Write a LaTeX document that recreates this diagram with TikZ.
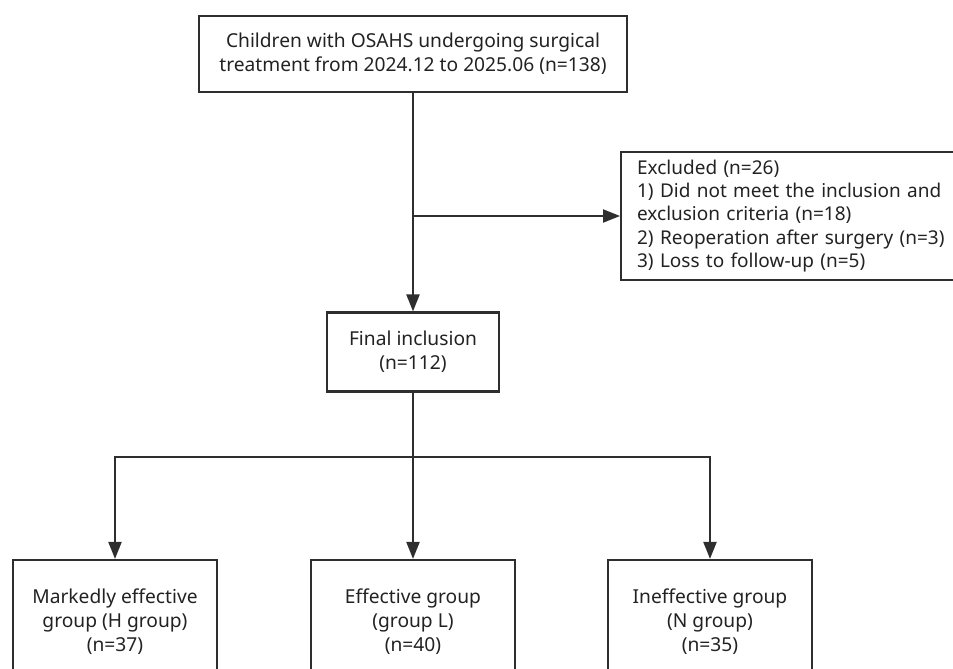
\documentclass[tikz,border=0pt]{standalone}
\usepackage{fontspec}
\setmainfont{Noto Sans}
\usetikzlibrary{arrows.meta,positioning}
\definecolor{ink}{HTML}{2E2E2E}
\definecolor{txt}{HTML}{222222}
\tikzset{>={Triangle[length=8.5pt,width=6.5pt]},
  every node/.style={font=\fontsize{9.6}{12}\selectfont,text=txt},
  stagebox/.style={draw=ink,line width=1.1pt,align=center,inner sep=0pt},
  flow/.style={->,draw=ink,line width=1.1pt},
  link/.style={draw=ink,line width=1.1pt}}

\begin{document}
\begin{tikzpicture}[x=.5pt,y=-.5pt]
\clip (0,0) rectangle (953,669);
\node[stagebox,minimum width=214pt,minimum height=38pt] (cohort) at (413,54)
  {Children with OSAHS undergoing surgical\\treatment from 2024.12 to 2025.06 (n=138)};
\node[stagebox,align=left,anchor=west,minimum width=172pt,minimum height=64pt,
  inner xsep=8pt,text width=156pt,font=\fontsize{9.5}{11.7}\selectfont] (excl) at (620,216)
  {Excluded (n=26)\\1) Did not meet the inclusion and\\exclusion criteria (n=18)\\
   2) Reoperation after surgery (n=3)\\3) Loss to follow-up (n=5)};
\node[stagebox,minimum width=86pt,minimum height=39.5pt] (final) at (413,352)
  {Final inclusion\\(n=112)};
\foreach \x/\nm/\lab in {115/grpH/{Markedly effective\\group (H group)\\(n=37)},
  413/grpL/{Effective group\\(group L)\\(n=40)},
  710/grpN/{Ineffective group\\(N group)\\(n=35)}}
  \node[stagebox,minimum width=102pt,minimum height=62pt] (\nm) at (\x,622) {\lab};
\coordinate (split) at (cohort.south |- excl.west);
\coordinate (fork) at (413,457);
\draw[flow] (cohort) -- (final);
\draw[flow] (split) -- (excl.west);
\draw[link] (final) -- (fork);
\draw[flow] (fork) -| (grpH.north);
\draw[flow] (fork) -- (grpL.north);
\draw[flow] (fork) -| (grpN.north);
\end{tikzpicture}
\end{document}
